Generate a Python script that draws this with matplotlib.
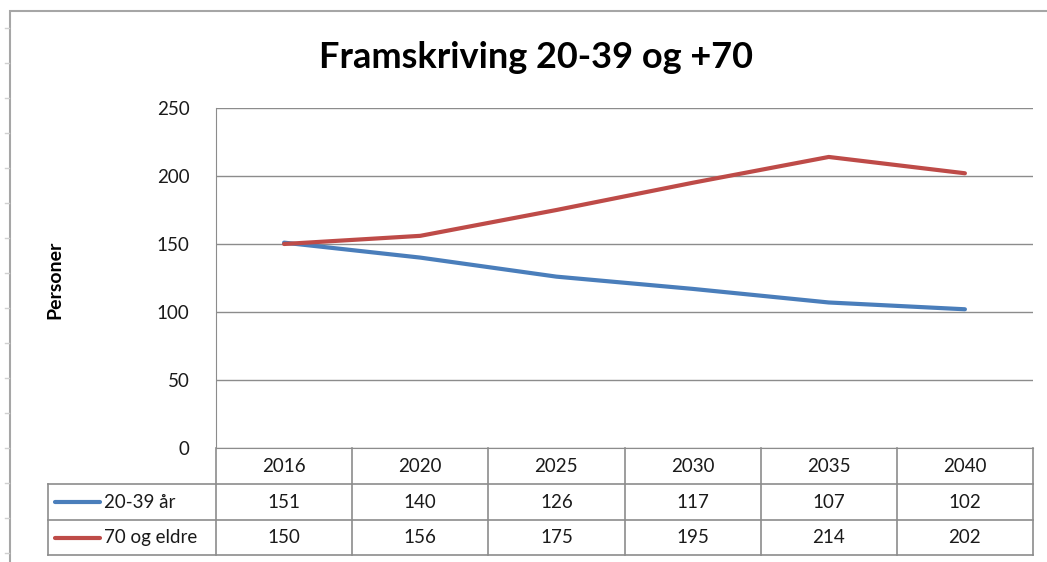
import matplotlib
matplotlib.use('Agg')
import matplotlib.pyplot as plt
from matplotlib.patches import Rectangle
from matplotlib.lines import Line2D

years = ['2016', '2020', '2025', '2030', '2035', '2040']
young = [151, 140, 126, 117, 107, 102]
old = [150, 156, 175, 195, 214, 202]
series_names = ['20-39 år', '70 og eldre']
series_colors = ['#4A7EBB', '#BE4B48']
yticks = [0, 50, 100, 150, 200, 250]

W, H = 1047, 562
plt.rcParams['font.family'] = ['Lato', 'DejaVu Sans']
fig = plt.figure(figsize=(W / 100, H / 100), dpi=100)

grid_col = '#8C8C8C'
text_col = '#1A1A1A'
fs = 13.5

# chart frame (Excel chart area) and faint spreadsheet ticks
fig.patches.append(Rectangle((10 / W, -0.1), 1.2, 1 - 11 / H + 0.1, transform=fig.transFigure,
                             fill=False, edgecolor='#A6A6A6', lw=1.5))
for yy in range(28, 562, 35):
    fig.lines.append(Line2D([5 / W, 9 / W], [1 - yy / H] * 2, transform=fig.transFigure,
                            color='#D0D0D0', lw=1))

# plot area in pixels
left, right, top, bottom = 216, 1033, 108, 448
ax = fig.add_axes([left / W, 1 - bottom / H, (right - left) / W, (bottom - top) / H])

x = range(len(years))
ax.plot(x, young, color=series_colors[0], lw=3, solid_capstyle='round')
ax.plot(x, old, color=series_colors[1], lw=3, solid_capstyle='round')

ax.set_xlim(-0.5, len(years) - 0.5)
ax.set_ylim(0, 250)
ax.set_yticks(yticks)
ax.set_yticklabels([str(t) for t in yticks], fontsize=fs, color=text_col)
ax.tick_params(axis='y', length=0, pad=19)
ax.set_xticks([])
ax.grid(axis='y', color=grid_col, lw=1)
for s in ['top', 'right']:
    ax.spines[s].set_visible(False)
ax.spines['left'].set_color(grid_col)
ax.spines['bottom'].set_color(grid_col)

fig.text(536 / W, 1 - 57 / H, 'Framskriving 20-39 og +70', ha='center', va='center',
         fontsize=26, fontweight='bold', color='black')
fig.text(55 / W, 1 - 280 / H, 'Personer', rotation=90, ha='center', va='center',
         fontsize=14, fontweight='bold', color='black')

# data table under the plot, in pixel coordinates
def fx(px):
    return px / W

def fy(py):
    return 1 - py / H

col_w = (right - left) / len(years)
row_edges = [448, 484, 520, 555]
tbl_left = 48

def hline(x0, x1, y):
    fig.lines.append(Line2D([fx(x0), fx(x1)], [fy(y), fy(y)], transform=fig.transFigure,
                            color=grid_col, lw=1.2))

def vline(xp, y0, y1):
    fig.lines.append(Line2D([fx(xp), fx(xp)], [fy(y0), fy(y1)], transform=fig.transFigure,
                            color=grid_col, lw=1.2))

hline(tbl_left, right, row_edges[1])
hline(tbl_left, right, row_edges[2])
hline(tbl_left, right, row_edges[3])
vline(tbl_left, row_edges[1], row_edges[3])
for i in range(len(years) + 1):
    vline(left + i * col_w, row_edges[0], row_edges[3])

for i, yr in enumerate(years):
    cx = left + (i + 0.5) * col_w
    fig.text(fx(cx), fy((row_edges[0] + row_edges[1]) / 2), yr, ha='center', va='center',
             fontsize=fs, color=text_col)
    for r, vals in enumerate([young, old]):
        cy = (row_edges[r + 1] + row_edges[r + 2]) / 2
        fig.text(fx(cx), fy(cy), str(vals[i]), ha='center', va='center',
                 fontsize=fs, color=text_col)

for r, (name, col) in enumerate(zip(series_names, series_colors)):
    cy = (row_edges[r + 1] + row_edges[r + 2]) / 2
    fig.lines.append(Line2D([fx(55), fx(100)], [fy(cy), fy(cy)], transform=fig.transFigure,
                            color=col, lw=3, solid_capstyle='round'))
    fig.text(fx(104), fy(cy), name, ha='left', va='center', fontsize=fs, color=text_col)

fig.savefig('out.png', dpi=100)
